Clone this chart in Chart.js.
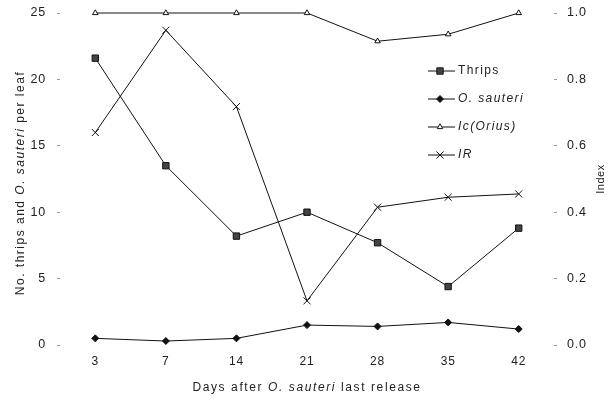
<!DOCTYPE html>
<html>
<head>
<meta charset="utf-8">
<script src="https://cdn.jsdelivr.net/npm/chart.js@4.4.1/dist/chart.umd.min.js"></script>
<style>
html, body { margin: 0; padding: 0; background: #fff; }
#wrap { width: 616px; height: 401px; }
</style>
</head>
<body>
<div id="wrap"><canvas id="canvas" width="616" height="401"></canvas></div>
<script>
var days = ['3', '7', '14', '21', '28', '35', '42'];
var thrips = [21.6, 13.5, 8.2, 10.0, 7.7, 4.4, 8.8];
var oSauteri = [0.5, 0.3, 0.5, 1.5, 1.4, 1.7, 1.2];
var icOrius = [1.0, 1.0, 1.0, 1.0, 0.915, 0.936, 1.0];
var indexR = [0.64, 0.948, 0.718, 0.133, 0.415, 0.445, 0.455];

var ink = '#111';
var FONT = '"Liberation Sans", Arial, sans-serif';

function series(label, data, axis, style, radius, fill, italic){
	return {
		label: label,
		data: data,
		yAxisID: axis,
		borderColor: ink,
		borderWidth: 1,
		backgroundColor: fill,
		pointStyle: style,
		pointRadius: radius,
		pointBorderColor: ink,
		pointBackgroundColor: fill,
		pointBorderWidth: 1,
		tension: 0,
		clip: false,
		italic: italic
	};
}

// draws text made of normal/italic pieces; align 'center' or 'left' at x
function drawRich(ctx, parts, x, y, size, spacing, align){
	ctx.letterSpacing = spacing + 'px';
	var total = 0;
	parts.forEach(function(p){
		ctx.font = (p.i ? 'italic ' : '') + size + 'px ' + FONT;
		p.w = ctx.measureText(p.t).width;
		total += p.w;
	});
	var cx = align == 'left' ? x : x - total / 2;
	ctx.textAlign = 'left';
	ctx.textBaseline = 'middle';
	parts.forEach(function(p){
		ctx.font = (p.i ? 'italic ' : '') + size + 'px ' + FONT;
		ctx.fillText(p.t, cx, y);
		cx += p.w;
	});
	ctx.letterSpacing = '0px';
}

// keep the value axes tight to the top padding
function fitSide(width){
	return function(s){
		s.width = width;
		s.paddingTop = 0;
		s.paddingBottom = 0;
	};
}

var extras = {
	id: 'extras',
	beforeDraw: function(chart){
		chart.ctx.letterSpacing = '0.8px';
	},
	afterDraw: function(chart){
		var ctx = chart.ctx;
		var area = chart.chartArea;
		ctx.save();
		ctx.fillStyle = '#222';
		// axis titles
		drawRich(ctx, [{t: 'Days after '}, {t: 'O. sauteri', i: true}, {t: ' last release'}],
			(area.left + area.right) / 2, 388, 12, 1.6, 'center');
		ctx.save();
		ctx.translate(21, (area.top + area.bottom) / 2 + 4);
		ctx.rotate(-Math.PI / 2);
		drawRich(ctx, [{t: 'No. thrips and '}, {t: 'O. sauteri', i: true}, {t: ' per leaf'}], 0, 0, 12, 1.5, 'center');
		ctx.restore();
		ctx.save();
		ctx.translate(601, (area.top + area.bottom) / 2);
		ctx.rotate(-Math.PI / 2);
		drawRich(ctx, [{t: 'Index'}], 0, 0, 11, 0.5, 'center');
		ctx.restore();

		// legend inside the plot
		var lx = area.left + 368;
		var ly = area.top + 58;
		chart.data.datasets.forEach(function(ds, i){
			var y = ly + i * 28;
			ctx.strokeStyle = ink;
			ctx.lineWidth = 1;
			ctx.beginPath();
			ctx.moveTo(lx, y);
			ctx.lineTo(lx + 27, y);
			ctx.stroke();
			ctx.fillStyle = ds.pointBackgroundColor;
			Chart.helpers.drawPoint(ctx, {
				pointStyle: ds.pointStyle,
				radius: ds.pointRadius,
				rotation: 0,
				borderWidth: 1
			}, lx + 12, y);
			ctx.fillStyle = '#222';
			drawRich(ctx, [{t: ds.label, i: ds.italic}], lx + 30, y, 12, 1.4, 'left');
		});
		ctx.restore();
	}
};

var config = {
	type: 'line',
	data: {
		labels: days,
		datasets: [
			series('Thrips', thrips, 'y', 'rect', 4.5, '#444', false),
			series('O. sauteri', oSauteri, 'y', 'rectRot', 3.5, ink, true),
			series('Ic(Orius)', icOrius, 'y1', 'triangle', 3.2, '#fff', true),
			series('IR', indexR, 'y1', 'crossRot', 5, ink, true)
		]
	},
	options: {
		responsive: false,
		animation: false,
		layout: {padding: {top: 13, left: 0, right: 0, bottom: 0}},
		plugins: {
			legend: {display: false},
			tooltip: {enabled: false}
		},
		scales: {
			x: {
				offset: true,
				grid: {display: false, drawTicks: false},
				border: {display: false},
				ticks: {color: '#222', padding: 9, font: {family: FONT, size: 12}},
				afterFit: function(s){ s.height = 56; }
			},
			y: {
				position: 'left',
				min: 0,
				max: 25,
				grid: {drawOnChartArea: false, tickLength: 3, color: '#999'},
				border: {display: false},
				ticks: {stepSize: 5, color: '#222', padding: 11, font: {family: FONT, size: 12.5}},
				afterFit: fitSide(60)
			},
			y1: {
				position: 'right',
				min: 0,
				max: 1,
				grid: {drawOnChartArea: false, tickLength: 3, color: '#999'},
				border: {display: false},
				ticks: {
					stepSize: 0.2,
					color: '#222',
					padding: 10,
					font: {family: FONT, size: 12.5},
					callback: function(v){ return v.toFixed(1); }
				},
				afterFit: fitSide(62)
			}
		}
	},
	plugins: [extras]
};

var ctx = document.getElementById('canvas').getContext('2d');
window.myLine = new Chart(ctx, config);
</script>
</body>
</html>
